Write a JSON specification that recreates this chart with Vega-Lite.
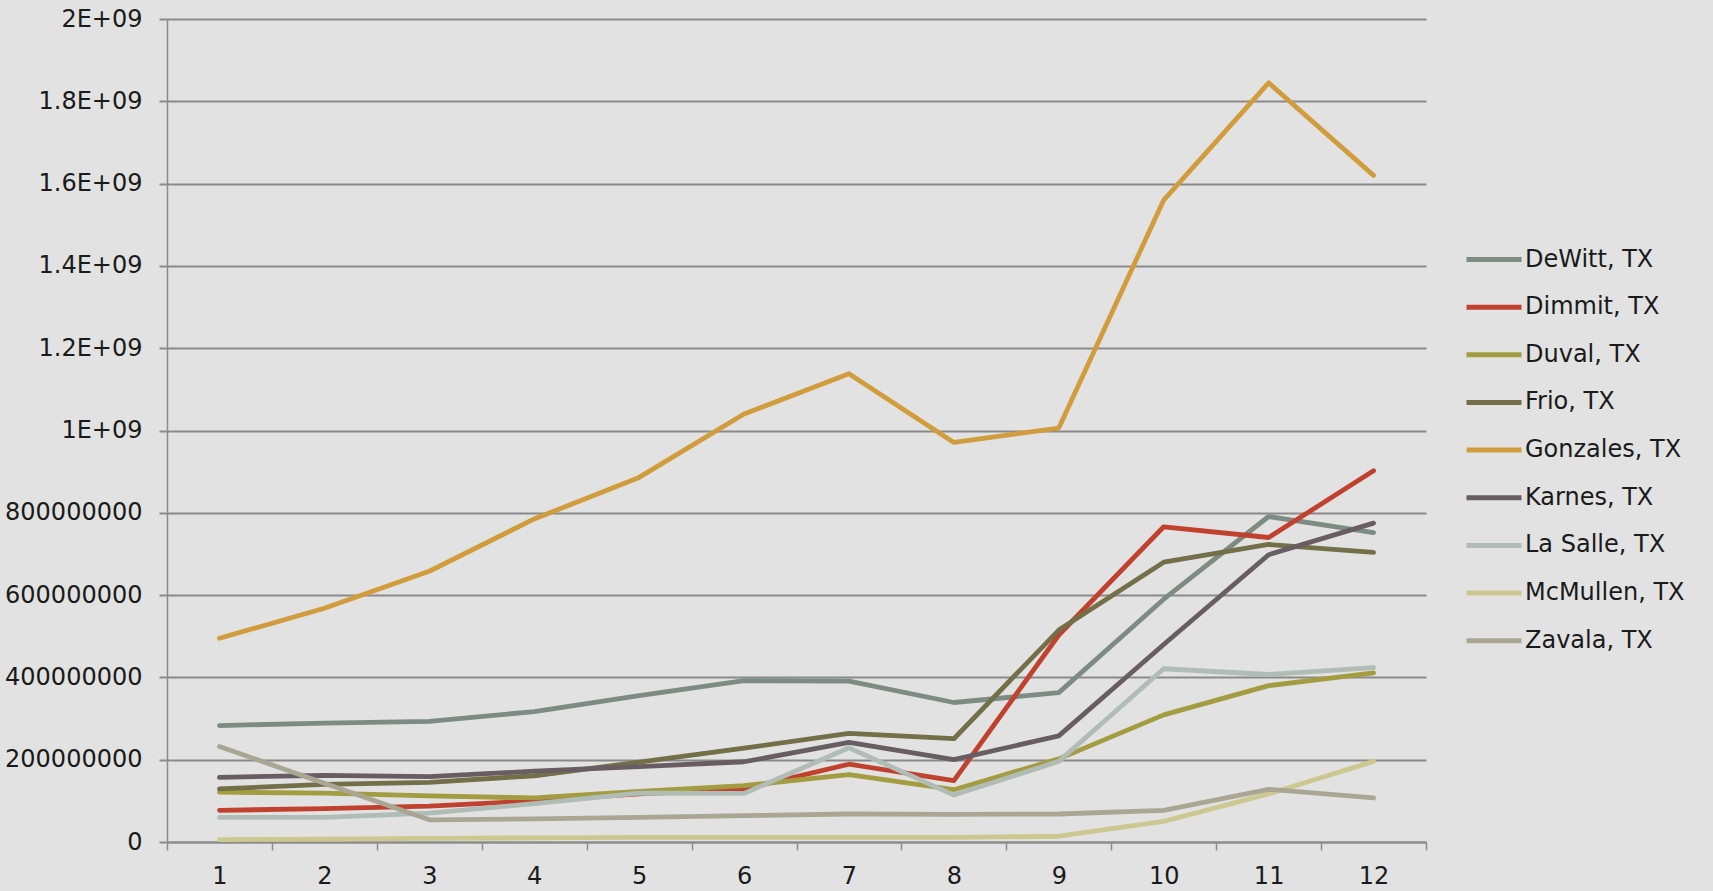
{
  "$schema": "https://vega.github.io/schema/vega-lite/v6.json",
  "autosize": "none",
  "width": 1259,
  "height": 823,
  "padding": {"left": 167, "top": 19, "right": 287, "bottom": 49},
  "background": "#e2e2e2",
  "config": {
    "view": {"stroke": null},
    "font": "DejaVu Sans",
    "axis": {"labelFont": "DejaVu Sans", "labelColor": "#1a1a1a", "labelFontSize": 24}
  },
  "data": {
    "values": [
      {"county": "DeWitt, TX", "month": 1, "value": 283000000},
      {"county": "DeWitt, TX", "month": 2, "value": 289000000},
      {"county": "DeWitt, TX", "month": 3, "value": 293000000},
      {"county": "DeWitt, TX", "month": 4, "value": 317000000},
      {"county": "DeWitt, TX", "month": 5, "value": 356000000},
      {"county": "DeWitt, TX", "month": 6, "value": 392000000},
      {"county": "DeWitt, TX", "month": 7, "value": 391000000},
      {"county": "DeWitt, TX", "month": 8, "value": 339000000},
      {"county": "DeWitt, TX", "month": 9, "value": 363000000},
      {"county": "DeWitt, TX", "month": 10, "value": 590000000},
      {"county": "DeWitt, TX", "month": 11, "value": 791000000},
      {"county": "DeWitt, TX", "month": 12, "value": 752000000},
      {"county": "Dimmit, TX", "month": 1, "value": 77000000},
      {"county": "Dimmit, TX", "month": 2, "value": 81000000},
      {"county": "Dimmit, TX", "month": 3, "value": 87000000},
      {"county": "Dimmit, TX", "month": 4, "value": 100000000},
      {"county": "Dimmit, TX", "month": 5, "value": 117000000},
      {"county": "Dimmit, TX", "month": 6, "value": 129000000},
      {"county": "Dimmit, TX", "month": 7, "value": 189000000},
      {"county": "Dimmit, TX", "month": 8, "value": 149000000},
      {"county": "Dimmit, TX", "month": 9, "value": 503000000},
      {"county": "Dimmit, TX", "month": 10, "value": 766000000},
      {"county": "Dimmit, TX", "month": 11, "value": 740000000},
      {"county": "Dimmit, TX", "month": 12, "value": 902000000},
      {"county": "Duval, TX", "month": 1, "value": 121000000},
      {"county": "Duval, TX", "month": 2, "value": 119000000},
      {"county": "Duval, TX", "month": 3, "value": 112000000},
      {"county": "Duval, TX", "month": 4, "value": 107000000},
      {"county": "Duval, TX", "month": 5, "value": 123000000},
      {"county": "Duval, TX", "month": 6, "value": 137000000},
      {"county": "Duval, TX", "month": 7, "value": 164000000},
      {"county": "Duval, TX", "month": 8, "value": 127000000},
      {"county": "Duval, TX", "month": 9, "value": 202000000},
      {"county": "Duval, TX", "month": 10, "value": 309000000},
      {"county": "Duval, TX", "month": 11, "value": 380000000},
      {"county": "Duval, TX", "month": 12, "value": 411000000},
      {"county": "Frio, TX", "month": 1, "value": 129000000},
      {"county": "Frio, TX", "month": 2, "value": 140000000},
      {"county": "Frio, TX", "month": 3, "value": 145000000},
      {"county": "Frio, TX", "month": 4, "value": 161000000},
      {"county": "Frio, TX", "month": 5, "value": 194000000},
      {"county": "Frio, TX", "month": 6, "value": 228000000},
      {"county": "Frio, TX", "month": 7, "value": 264000000},
      {"county": "Frio, TX", "month": 8, "value": 251000000},
      {"county": "Frio, TX", "month": 9, "value": 515000000},
      {"county": "Frio, TX", "month": 10, "value": 680000000},
      {"county": "Frio, TX", "month": 11, "value": 723000000},
      {"county": "Frio, TX", "month": 12, "value": 704000000},
      {"county": "Gonzales, TX", "month": 1, "value": 495000000},
      {"county": "Gonzales, TX", "month": 2, "value": 568000000},
      {"county": "Gonzales, TX", "month": 3, "value": 658000000},
      {"county": "Gonzales, TX", "month": 4, "value": 785000000},
      {"county": "Gonzales, TX", "month": 5, "value": 886000000},
      {"county": "Gonzales, TX", "month": 6, "value": 1040000000},
      {"county": "Gonzales, TX", "month": 7, "value": 1138000000},
      {"county": "Gonzales, TX", "month": 8, "value": 971000000},
      {"county": "Gonzales, TX", "month": 9, "value": 1006000000},
      {"county": "Gonzales, TX", "month": 10, "value": 1560000000},
      {"county": "Gonzales, TX", "month": 11, "value": 1845000000},
      {"county": "Gonzales, TX", "month": 12, "value": 1620000000},
      {"county": "Karnes, TX", "month": 1, "value": 157000000},
      {"county": "Karnes, TX", "month": 2, "value": 162000000},
      {"county": "Karnes, TX", "month": 3, "value": 159000000},
      {"county": "Karnes, TX", "month": 4, "value": 172000000},
      {"county": "Karnes, TX", "month": 5, "value": 183000000},
      {"county": "Karnes, TX", "month": 6, "value": 195000000},
      {"county": "Karnes, TX", "month": 7, "value": 242000000},
      {"county": "Karnes, TX", "month": 8, "value": 200000000},
      {"county": "Karnes, TX", "month": 9, "value": 258000000},
      {"county": "Karnes, TX", "month": 10, "value": 480000000},
      {"county": "Karnes, TX", "month": 11, "value": 698000000},
      {"county": "Karnes, TX", "month": 12, "value": 775000000},
      {"county": "La Salle, TX", "month": 1, "value": 60000000},
      {"county": "La Salle, TX", "month": 2, "value": 60000000},
      {"county": "La Salle, TX", "month": 3, "value": 70000000},
      {"county": "La Salle, TX", "month": 4, "value": 93000000},
      {"county": "La Salle, TX", "month": 5, "value": 119000000},
      {"county": "La Salle, TX", "month": 6, "value": 118000000},
      {"county": "La Salle, TX", "month": 7, "value": 229000000},
      {"county": "La Salle, TX", "month": 8, "value": 114000000},
      {"county": "La Salle, TX", "month": 9, "value": 196000000},
      {"county": "La Salle, TX", "month": 10, "value": 421000000},
      {"county": "La Salle, TX", "month": 11, "value": 407000000},
      {"county": "La Salle, TX", "month": 12, "value": 424000000},
      {"county": "McMullen, TX", "month": 1, "value": 6000000},
      {"county": "McMullen, TX", "month": 2, "value": 7000000},
      {"county": "McMullen, TX", "month": 3, "value": 9000000},
      {"county": "McMullen, TX", "month": 4, "value": 10000000},
      {"county": "McMullen, TX", "month": 5, "value": 11000000},
      {"county": "McMullen, TX", "month": 6, "value": 11000000},
      {"county": "McMullen, TX", "month": 7, "value": 11000000},
      {"county": "McMullen, TX", "month": 8, "value": 11000000},
      {"county": "McMullen, TX", "month": 9, "value": 14000000},
      {"county": "McMullen, TX", "month": 10, "value": 50000000},
      {"county": "McMullen, TX", "month": 11, "value": 117000000},
      {"county": "McMullen, TX", "month": 12, "value": 196000000},
      {"county": "Zavala, TX", "month": 1, "value": 232000000},
      {"county": "Zavala, TX", "month": 2, "value": 143000000},
      {"county": "Zavala, TX", "month": 3, "value": 54000000},
      {"county": "Zavala, TX", "month": 4, "value": 56000000},
      {"county": "Zavala, TX", "month": 5, "value": 60000000},
      {"county": "Zavala, TX", "month": 6, "value": 64000000},
      {"county": "Zavala, TX", "month": 7, "value": 68000000},
      {"county": "Zavala, TX", "month": 8, "value": 67000000},
      {"county": "Zavala, TX", "month": 9, "value": 68000000},
      {"county": "Zavala, TX", "month": 10, "value": 77000000},
      {"county": "Zavala, TX", "month": 11, "value": 128000000},
      {"county": "Zavala, TX", "month": 12, "value": 107000000}
    ]
  },
  "mark": {"type": "line", "strokeWidth": 4.8, "strokeCap": "round", "strokeJoin": "round"},
  "encoding": {
    "x": {
      "field": "month",
      "type": "ordinal",
      "bandPosition": 0.5,
      "scale": {"type": "band", "paddingInner": 0, "paddingOuter": 0},
      "axis": {
        "title": null,
        "labelAngle": 0,
        "grid": false,
        "tickBand": "extent",
        "tickSize": 8,
        "tickColor": "#8c8c8c",
        "tickWidth": 1.5,
        "domainColor": "#8c8c8c",
        "domainWidth": 2,
        "labelPadding": 14,
        "labelBaseline": "top"
      }
    },
    "y": {
      "field": "value",
      "type": "quantitative",
      "scale": {"domain": [0, 2000000000], "nice": false},
      "axis": {
        "title": null,
        "values": [0, 200000000, 400000000, 600000000, 800000000, 1000000000, 1200000000, 1400000000, 1600000000, 1800000000, 2000000000],
        "labelExpr": "datum.value >= 1000000000 ? format(datum.value / 1000000000, '~g') + 'E+09' : format(datum.value, 'd')",
        "grid": true,
        "gridColor": "#8a8a8a",
        "gridWidth": 2,
        "gridOpacity": 1,
        "tickSize": 8,
        "tickColor": "#8a8a8a",
        "tickWidth": 2,
        "domainColor": "#8a8a8a",
        "domainWidth": 1.5,
        "labelPadding": 17
      }
    },
    "color": {
      "field": "county",
      "type": "nominal",
      "scale": {
        "domain": ["DeWitt, TX", "Dimmit, TX", "Duval, TX", "Frio, TX", "Gonzales, TX", "Karnes, TX", "La Salle, TX", "McMullen, TX", "Zavala, TX"],
        "range": ["#7d8c82", "#c0422e", "#a39c40", "#736f48", "#d19d3c", "#685d62", "#b0bdb6", "#cdc890", "#a9a794"]
      },
      "legend": {
        "title": null,
        "orient": "none",
        "legendX": 1297,
        "legendY": 218,
        "symbolType": "stroke",
        "symbolSize": 3025,
        "symbolStrokeWidth": 5,
        "labelFont": "DejaVu Sans",
        "labelFontSize": 24,
        "labelColor": "#1a1a1a",
        "labelOffset": 1,
        "clipHeight": 45,
        "rowPadding": 2.65
      }
    }
  }
}
